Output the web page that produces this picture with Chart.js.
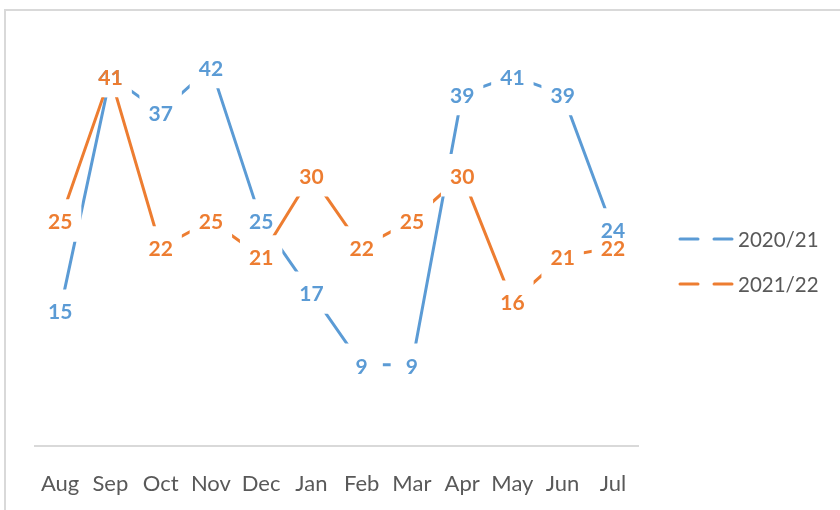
<!DOCTYPE html>
<html>
<head>
<meta charset="utf-8">
<script src="https://cdn.jsdelivr.net/npm/chart.js@4.4.1/dist/chart.umd.min.js"></script>
<style>
  html, body { margin: 0; padding: 0; background: #fff; }
  #wrap { width: 840px; height: 510px; }
</style>
</head>
<body>
<div id="wrap"><canvas id="lineChart" width="840" height="510"></canvas></div>
<script>
const months = ['Aug', 'Sep', 'Oct', 'Nov', 'Dec', 'Jan', 'Feb', 'Mar', 'Apr', 'May', 'Jun', 'Jul'];
const season2021 = [15, 41, 37, 42, 25, 17, 9, 9, 39, 41, 39, 24];
const season2122 = [25, 41, 22, 25, 21, 30, 22, 25, 30, 16, 21, 22];

const BLUE = '#5b9bd5';
const ORANGE = '#ed7d31';
const GREY_TEXT = '#595959';

// chart frame like the Excel chart border
const framePlugin = {
  id: 'frame',
  beforeDraw(chart) {
    const ctx = chart.ctx;
    ctx.save();
    ctx.fillStyle = '#fff';
    ctx.fillRect(0, 0, chart.width, chart.height);
    ctx.strokeStyle = '#d9d9d9';
    ctx.lineWidth = 2;
    ctx.strokeRect(5, 10, 900, 600);
    ctx.restore();
  }
};

// value labels centred on the points
const valueLabels = {
  id: 'valueLabels',
  afterDatasetsDraw(chart) {
    const ctx = chart.ctx;
    ctx.save();
    ctx.font = 'bold 21px Lato';
    ctx.textAlign = 'center';
    ctx.textBaseline = 'middle';
    chart.data.datasets.forEach((ds, i) => {
      const meta = chart.getDatasetMeta(i);
      ctx.fillStyle = ds.borderColor;
      meta.data.forEach((pt, j) => {
        ctx.fillText(String(ds.data[j]), pt.x, pt.y + 2);
      });
    });
    ctx.restore();
  }
};

// legend on the right: line broken by the white marker
const sideLegend = {
  id: 'sideLegend',
  afterDraw(chart) {
    const ctx = chart.ctx;
    ctx.save();
    ctx.font = '20.5px Lato';
    ctx.textBaseline = 'middle';
    ctx.textAlign = 'left';
    chart.data.datasets.forEach((ds, i) => {
      const y = 239 + i * 45;
      ctx.strokeStyle = ds.borderColor;
      ctx.lineWidth = 3;
      ctx.lineCap = 'round';
      ctx.beginPath();
      ctx.moveTo(680, y); ctx.lineTo(698, y);
      ctx.moveTo(714, y); ctx.lineTo(732, y);
      ctx.stroke();
      ctx.fillStyle = GREY_TEXT;
      ctx.fillText(ds.label, 738, y + 1);
    });
    ctx.restore();
  }
};

function makeSeries(label, values, color, order) {
  return {
    label: label,
    data: values,
    borderColor: color,
    borderWidth: 3,
    pointStyle: 'rect',
    pointRadius: 30,
    pointHoverRadius: 30,
    pointBackgroundColor: '#fff',
    pointBorderWidth: 0,
    pointHoverBorderWidth: 0,
    tension: 0,
    fill: false,
    order: order,
    clip: 40
  };
}

const ctx = document.getElementById('lineChart').getContext('2d');
const chartInstance = new Chart(ctx, {
  type: 'line',
  data: {
    labels: months,
    datasets: [
      makeSeries('2020/21', season2021, BLUE, 2),
      makeSeries('2021/22', season2122, ORANGE, 1)
    ]
  },
  options: {
    responsive: false,
    animation: false,
    events: [],
    layout: { padding: { left: 35, right: 202, top: 40, bottom: 0 } },
    plugins: {
      legend: { display: false },
      tooltip: { enabled: false }
    },
    scales: {
      x: {
        offset: true,
        grid: { display: false },
        border: { display: true, color: '#d9d9d9', width: 2 },
        ticks: { color: GREY_TEXT, font: { family: 'Lato', size: 22 }, padding: 17, maxRotation: 0, autoSkip: false },
        afterFit(scale) { scale.height = 64; }
      },
      y: {
        display: false,
        min: 0,
        max: 45
      }
    }
  },
  plugins: [framePlugin, valueLabels, sideLegend]
});
</script>
</body>
</html>
